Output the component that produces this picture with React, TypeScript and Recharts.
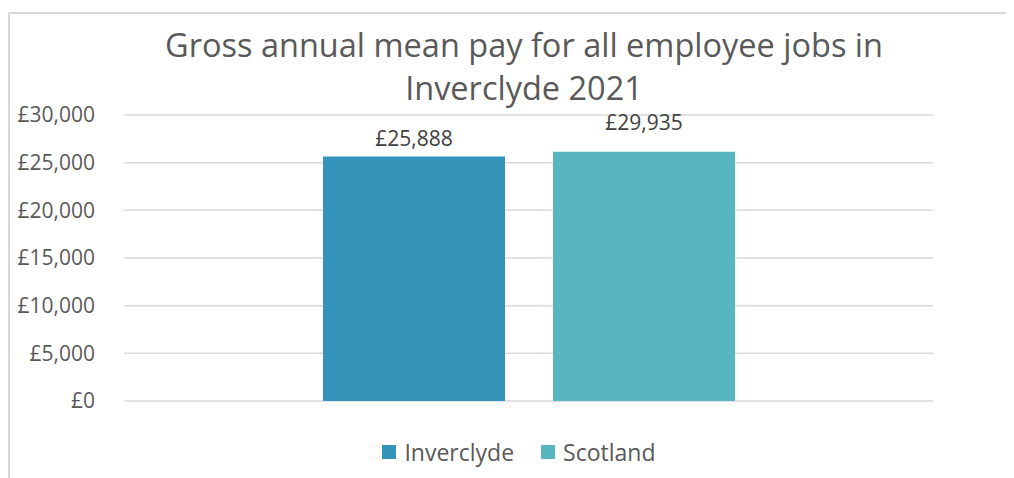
import React from "react";
import {
  BarChart,
  Bar,
  XAxis,
  YAxis,
  CartesianGrid,
  LabelList,
} from "recharts";

const categories = ["2021"];
const seriesNames = ["Inverclyde", "Scotland"];
// bar heights as drawn in the source picture
const inverclydeValues = [25650];
const scotlandValues = [26150];
// the printed data labels
const dataLabels = ["£25,888", "£29,935"];
const yTicks = [0, 5000, 10000, 15000, 20000, 25000, 30000];

const colors = ["#3494ba", "#58b6c0"];
const labelLift = [10, 22];

const data = categories.map((c, i) => ({
  name: c,
  Inverclyde: inverclydeValues[i],
  Scotland: scotlandValues[i],
}));

const FONT = "'Open Sans', sans-serif";

const fmt = (v: number) => "£" + v.toLocaleString("en-GB");

function renderLabel(seriesIdx: number) {
  return (props: any) => {
    const { x, y, width } = props;
    return (
      <text
        x={x + width / 2}
        y={y - labelLift[seriesIdx]}
        textAnchor="middle"
        fill="#404040"
        fontSize={21}
        fontFamily={FONT}
      >
        {dataLabels[seriesIdx]}
      </text>
    );
  };
}

export default function App() {
  return (
    <div style={{ position: "relative", width: 1006, height: 470, background: "#fff" }}>
      <div
        style={{
          position: "absolute",
          top: 4,
          left: 0,
          right: 0,
          bottom: 0,
          borderTop: "2px solid #d9d9d9",
          borderLeft: "2px solid #d9d9d9",
        }}
      />
      <div
        style={{
          position: "absolute",
          top: 15,
          left: 0,
          width: 1032,
          textAlign: "center",
          fontFamily: FONT,
          fontSize: 32.5,
          lineHeight: "43px",
          color: "#595959",
        }}
      >
        Gross annual mean pay for all employee jobs in
        <br />
        Inverclyde 2021
      </div>
      <BarChart
        width={1006}
        height={470}
        data={data}
        margin={{ top: 107, right: 81, bottom: 77, left: 0 }}
        barSize={182}
        barGap={48}
        style={{ position: "absolute", top: 0, left: 0 }}
      >
        <CartesianGrid vertical={false} stroke="#d9d9d9" strokeWidth={1.5} />
        <XAxis dataKey="name" hide />
        <YAxis
          width={116}
          domain={[0, 30000]}
          ticks={yTicks}
          tickFormatter={fmt}
          axisLine={false}
          tickLine={false}
          tickMargin={23}
          tick={{ fill: "#595959", fontSize: 21, fontFamily: FONT }}
        />
        {seriesNames.map((s, i) => (
          <Bar key={s} dataKey={s} fill={colors[i]} isAnimationActive={false}>
            <LabelList content={renderLabel(i)} />
          </Bar>
        ))}
      </BarChart>
      <div
        style={{
          position: "absolute",
          top: 428,
          left: 0,
          width: 1022,
          display: "flex",
          justifyContent: "center",
          fontFamily: FONT,
        }}
      >
        {seriesNames.map((s, i) => (
          <div
            key={s}
            style={{
              display: "flex",
              alignItems: "center",
              marginRight: i === 0 ? 27 : 0,
            }}
          >
            <span
              style={{
                width: 14,
                height: 14,
                background: colors[i],
                display: "inline-block",
                marginRight: 8,
              }}
            />
            <span style={{ fontSize: 23, color: "#595959" }}>{s}</span>
          </div>
        ))}
      </div>
    </div>
  );
}
